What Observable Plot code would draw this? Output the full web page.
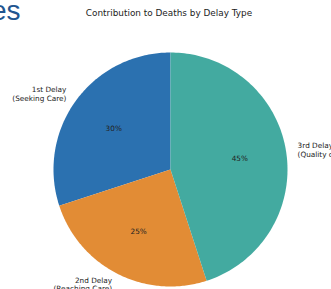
<!DOCTYPE html>
<html>
<head>
<meta charset="utf-8">
<script src="https://cdn.jsdelivr.net/npm/d3@7"></script>
<script src="https://cdn.jsdelivr.net/npm/@observablehq/plot@0.6"></script>
<style>
  html, body { margin: 0; padding: 0; background: #fff; overflow: hidden; }
  #wrap { position: relative; width: 331px; height: 289px; overflow: hidden; }
  #head { position: absolute; left: -9px; top: -5px; font: 28px "Liberation Sans", Arial, sans-serif; color: #21558f; white-space: nowrap; }
  #title { position: absolute; left: 0; width: 338px; top: 8px; text-align: center; font: 8.9px "DejaVu Sans", sans-serif; color: #222; }
  #chart { position: absolute; left: 0; top: 0; }
</style>
</head>
<body>
<div id="wrap">
  <div id="chart"></div>
  <div id="head">es</div>
  <div id="title">Contribution to Deaths by Delay Type</div>
</div>
<script>
const categories = ["1st Delay\n(Seeking Care)", "2nd Delay\n(Reaching Care)", "3rd Delay\n(Quality of Care)"];
const values = [30, 25, 45];
const colors = ["#2b71b0", "#e28c35", "#43aaa0"];

const total = d3.sum(values);
// matplotlib-style: start at 90°, counterclockwise
let start = 90;
const slices = categories.map((c, i) => {
  const sweep = values[i] / total * 360;
  const s = {cat: c, value: values[i], a0: start, a1: start + sweep, color: colors[i]};
  start += sweep;
  return s;
});
const rad = d => d * Math.PI / 180;
const pts = [];
for (const s of slices) {
  pts.push({cat: s.cat, x: 0, y: 0});
  const n = 120;
  for (let k = 0; k <= n; k++) {
    const a = rad(s.a0 + (s.a1 - s.a0) * k / n);
    pts.push({cat: s.cat, x: Math.cos(a), y: Math.sin(a)});
  }
}
const labels = slices.map(s => {
  const m = rad((s.a0 + s.a1) / 2);
  const cx = Math.cos(m);
  return {
    text: s.cat, pct: Math.round(s.value / total * 100) + "%",
    lx: 1.1 * cx, ly: 1.1 * Math.sin(m),
    px: 0.6 * cx, py: 0.6 * Math.sin(m),
    anchor: cx >= 0 ? "start" : "end"
  };
});

const R = 117, CX = 170, CY = 169, W = 331, H = 289;
const chart = Plot.plot({
  width: W, height: H,
  margin: 0,
  x: {domain: [-CX / R, (W - CX) / R], range: [0, W], axis: null},
  y: {domain: [-(H - CY) / R, CY / R], range: [H, 0], axis: null},
  color: {domain: categories, range: colors},
  style: {fontFamily: "DejaVu Sans, sans-serif", background: "white"},
  marks: [
    Plot.line(pts, {x: "x", y: "y", z: "cat", fill: "cat", stroke: null, curve: "linear-closed"}),
    Plot.text(labels, {x: "px", y: "py", text: "pct", fontSize: 7.3, fill: "#222"}),
    Plot.text(labels.filter(d => d.anchor === "start"), {x: "lx", y: "ly", text: "text", textAnchor: "start", fontSize: 7.3, lineHeight: 1.2, fill: "#222"}),
    Plot.text(labels.filter(d => d.anchor === "end"), {x: "lx", y: "ly", text: "text", textAnchor: "end", fontSize: 7.3, lineHeight: 1.2, fill: "#222"})
  ]
});
document.getElementById("chart").appendChild(chart);
</script>
</body>
</html>
